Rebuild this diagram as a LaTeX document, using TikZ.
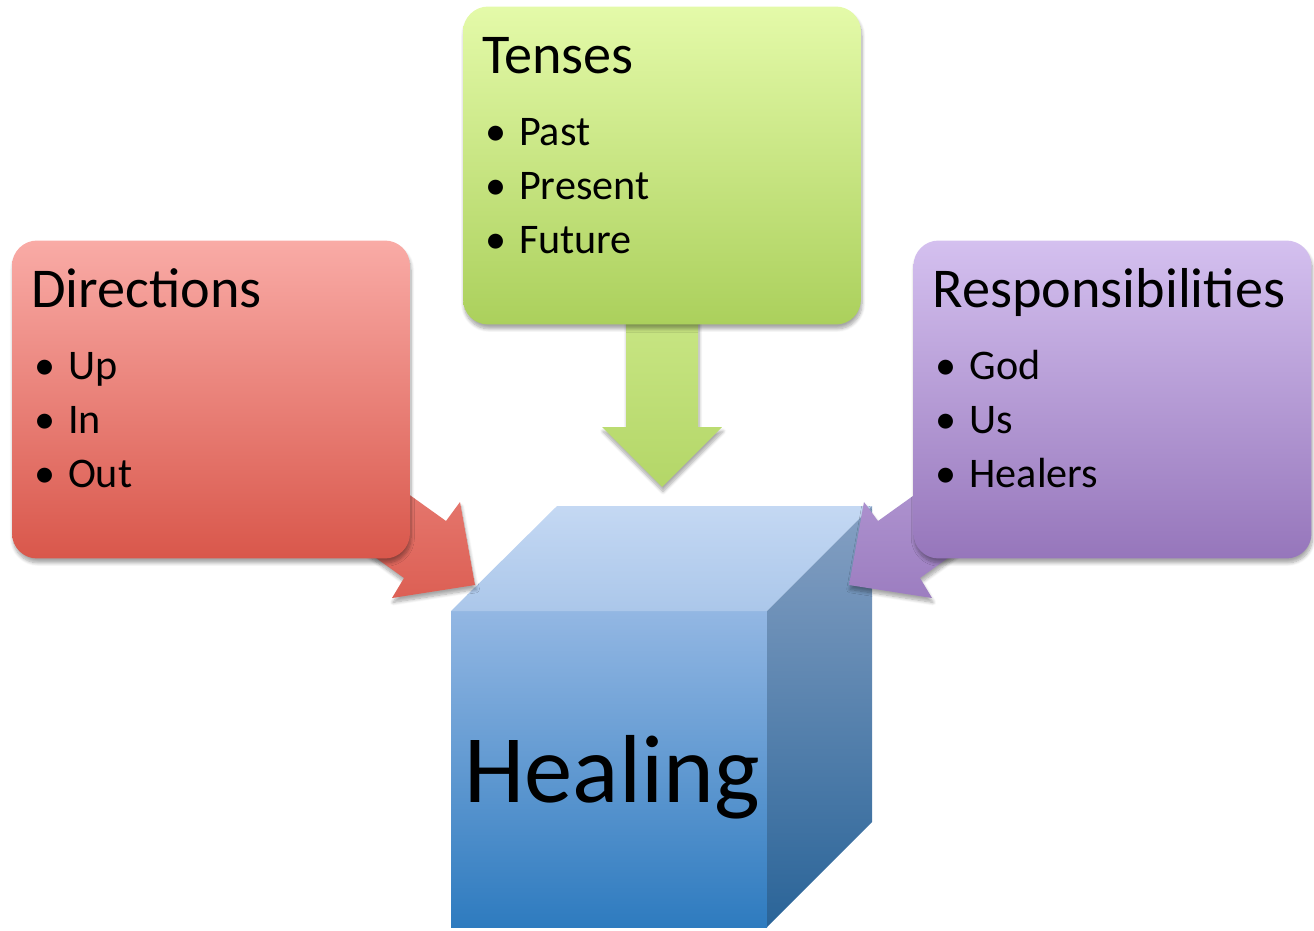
\documentclass[tikz,border=0pt]{standalone}
\usepackage{fontspec}
\setmainfont{Carlito}
\usetikzlibrary{calc,shadows.blur}

\definecolor{dirtop}{HTML}{F9ABA6}
\definecolor{dirbot}{HTML}{D9574B}
\definecolor{tentop}{HTML}{E4FAA9}
\definecolor{tenbot}{HTML}{ABD05C}
\definecolor{restop}{HTML}{D4C0EF}
\definecolor{resbot}{HTML}{9676BB}
\definecolor{cubetop}{HTML}{C4D8F3}
\definecolor{cubetopb}{HTML}{ABC7EA}
\definecolor{cubefront}{HTML}{93B7E3}
\definecolor{cubefrontb}{HTML}{2E7BBF}
\definecolor{cuberight}{HTML}{85A0C3}
\definecolor{cuberightb}{HTML}{2A6498}

\newcommand{\itm}[1]{\makebox[0.68cm][l]{\textbullet}#1}

\begin{document}
\begin{tikzpicture}[
  x=0.02cm, y=-0.02cm,
  softshadow/.style={blur shadow={shadow xshift=0.6pt, shadow yshift=-2.5pt, shadow blur steps=8, shadow opacity=35}},
  panel/.style={rectangle, rounded corners=0.5cm, minimum width=7.96cm, minimum height=6.36cm, softshadow},
  title/.style={anchor=base west, inner sep=0pt, font=\fontsize{32}{38}\selectfont},
  items/.style={anchor=base west, inner sep=0pt, font=\fontsize{24}{29}\selectfont},
  face/.style={draw=none}
]
  \useasboundingbox (0,0) rectangle (1314,930);

  % cube
  \path[face, top color=cubefront, bottom color=cubefrontb] (451,611) -- (767,611) -- (767,927) -- (451,927) -- cycle;
  \path[face, top color=cubetop, bottom color=cubetopb] (451,611) -- (557,506) -- (872,506) -- (767,611) -- cycle;
  \path[face, top color=cuberight, bottom color=cuberightb] (767,611) -- (872,506) -- (872,822) -- (767,927) -- cycle;
  \node[font=\fontsize{55}{62}\selectfont, anchor=base, inner sep=0pt] (heal) at (612,802) {Healing};

  % block arrows
  \path[softshadow, top color=tentop!55!tenbot, bottom color=tenbot!85!tentop] (626,300) -- (698,300) -- (698,427) -- (722,427) -- (662,487) -- (602,427) -- (626,427) -- cycle;
  \path[softshadow, top color=dirtop!45!dirbot, bottom color=dirbot!90!dirtop] (475,585) -- (460,502) -- (446,521) -- (365,463) -- (323,520) -- (404,578) -- (392,598) -- cycle;
  \path[softshadow, top color=restop!45!resbot, bottom color=resbot!90!restop] (849,585) -- (864,502) -- (878,521) -- (959,463) -- (1001,520) -- (920,578) -- (932,598) -- cycle;

  % panels
  \node[panel, top color=dirtop, bottom color=dirbot] (dir) at (211,399.5) {};
  \node[panel, top color=tentop, bottom color=tenbot] (ten) at (662,165.5) {};
  \node[panel, top color=restop, bottom color=resbot] (res) at (1112.5,399.5) {};

  \node[title] (dirT) at ($(dir.north west)+(19,67)$) {Directions};
  \node[title] (tenT) at ($(ten.north west)+(19,67)$) {Tenses};
  \node[title] (resT) at ($(res.north west)+(19,67)$) {Responsibilities};

  \foreach \t [count=\k] in {Up,In,Out}
    \node[items] (dir\k) at ($(dir.north west)+(22,85+54*\k)$) {\itm{\t}};
  \foreach \t [count=\k] in {Past,Present,Future}
    \node[items] (ten\k) at ($(ten.north west)+(22,85+54*\k)$) {\itm{\t}};
  \foreach \t [count=\k] in {God,Us,Healers}
    \node[items] (res\k) at ($(res.north west)+(22,85+54*\k)$) {\itm{\t}};
\end{tikzpicture}
\end{document}
